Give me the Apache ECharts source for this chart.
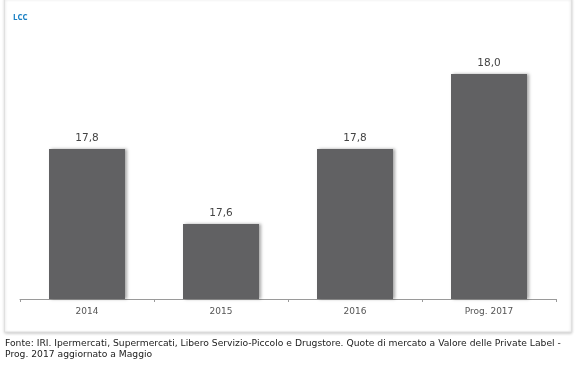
<!DOCTYPE html>
<html>
<head>
<meta charset="utf-8">
<script src="https://cdn.jsdelivr.net/npm/echarts@6/dist/echarts.min.js"></script>
<style>
html,body{margin:0;padding:0;background:#fff;}
#chart{width:576px;height:374px;}
</style>
</head>
<body>
<div id="chart"></div>
<script>
const categories = ['2014', '2015', '2016', 'Prog. 2017'];
const values = [17.8, 17.6, 17.8, 18.0];
const titleText = 'LCC';
const footerLines = [
  'Fonte: IRI. Ipermercati, Supermercati, Libero Servizio-Piccolo e Drugstore. Quote di mercato a Valore delle Private Label -',
  'Prog. 2017 aggiornato a Maggio'
];

const chart = echarts.init(document.getElementById('chart'), null, {renderer: 'canvas'});
chart.setOption({
  animation: false,
  backgroundColor: '#ffffff',
  graphic: [
    {
      type: 'rect', z: -10,
      shape: {x: 4.5, y: -2, width: 567, height: 334},
      style: {fill: '#fff', stroke: '#e0e0e0', lineWidth: 1,
        shadowBlur: 3, shadowOffsetY: 1, shadowColor: 'rgba(0,0,0,0.2)'}
    },
    {
      type: 'text', left: 13, top: 14,
      style: {text: titleText, fill: '#1a80c4', font: 'bold 8px "Open Sans", sans-serif'}
    },
    {
      type: 'text', left: 5, top: 338,
      style: {text: footerLines.join('\n'), fill: '#222', lineHeight: 11,
        font: '9.2px "DejaVu Sans", Verdana, sans-serif'}
    }
  ],
  grid: {left: 20, right: 20, top: 36.5, height: 262.5},
  xAxis: {
    type: 'category',
    data: categories,
    axisLine: {lineStyle: {color: '#9a9a9a', width: 1}},
    axisTick: {show: true, length: 3, lineStyle: {color: '#9a9a9a'}},
    axisLabel: {color: '#555', fontSize: 9, fontFamily: '"DejaVu Sans", Verdana, sans-serif', margin: 8}
  },
  yAxis: {
    type: 'value', min: 17.4, max: 18.1, show: false,
    splitLine: {show: false}
  },
  series: [{
    type: 'bar',
    data: values,
    barWidth: 76,
    itemStyle: {color: '#616163', shadowBlur: 3, shadowOffsetX: 2, shadowOffsetY: 0, shadowColor: 'rgba(0,0,0,0.35)'},
    label: {
      show: true, position: 'top', distance: 5,
      color: '#444', fontSize: 10.5, fontFamily: '"DejaVu Sans", Verdana, sans-serif',
      formatter: p => p.value.toFixed(1).replace('.', ',')
    }
  }]
});
</script>
</body>
</html>
